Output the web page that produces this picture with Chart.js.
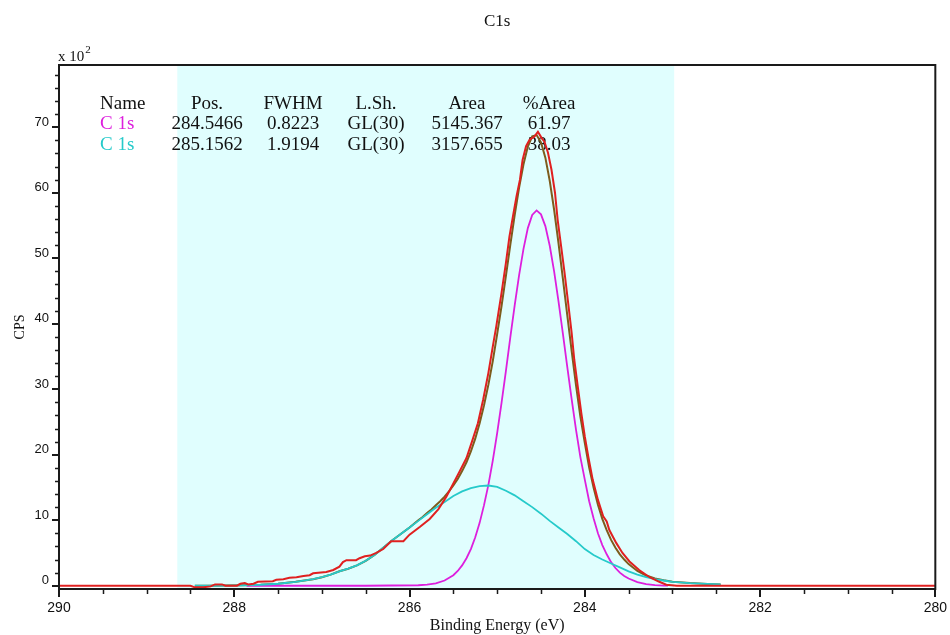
<!DOCTYPE html>
<html>
<head>
<meta charset="utf-8">
<script src="https://cdn.jsdelivr.net/npm/chart.js@4.4.1/dist/chart.umd.min.js"></script>
<style>
  html, body { margin: 0; padding: 0; background: #ffffff; }
  #wrap { width: 950px; height: 635px; }
  #xps { display: block; }
</style>
</head>
<body>
<div id="wrap"><canvas id="xps" width="950" height="635"></canvas></div>
<script>
// C 1s high-resolution region, counts in CPS x 10^2 against binding energy (eV)

// Measured spectrum
const rawEnergy = [290.0, 288.75, 288.5, 288.45, 288.35, 288.27, 288.22, 288.14, 288.1, 287.97,
  287.93, 287.88, 287.84, 287.78, 287.73, 287.56, 287.52, 287.44, 287.37, 287.29,
  287.21, 287.14, 287.1, 286.95, 286.87, 286.8, 286.76, 286.72, 286.61, 286.57,
  286.51, 286.45, 286.38, 286.3, 286.21, 286.07, 286.0, 285.88, 285.77, 285.67,
  285.58, 285.5, 285.43, 285.35, 285.28, 285.22, 285.16, 285.1, 285.05, 285.01,
  284.95, 284.9, 284.86, 284.82, 284.78, 284.74, 284.71, 284.67, 284.63, 284.58,
  284.535, 284.49, 284.46, 284.42, 284.38, 284.34, 284.31, 284.27, 284.23, 284.19,
  284.15, 284.12, 284.08, 284.04, 284.0, 283.96, 283.91, 283.85, 283.79, 283.75,
  283.72, 283.64, 283.57, 283.49, 283.38, 283.26, 283.15, 283.07, 282.95, 280.0];
const rawCounts = [0, 0, 0, -0.25, -0.25, -0.1, 0.2, 0.2, 0, 0,
  0.3, 0.4, 0.2, 0.3, 0.6, 0.7, 0.9, 1.0, 1.2, 1.3,
  1.5, 1.6, 1.9, 2.1, 2.4, 2.9, 3.6, 3.9, 3.9, 4.2,
  4.5, 4.6, 5.0, 5.6, 6.8, 6.8, 7.8, 9.0, 10.2, 11.7,
  13.6, 15.6, 17.4, 19.5, 22.3, 24.8, 28.4, 32.5, 36.5, 39.6,
  44.7, 49.3, 53.3, 56.4, 59.4, 62.0, 65.0, 67.1, 68.1, 68.5,
  69.3, 68.3, 67.8, 66.1, 63.5, 60.0, 55.9, 51.8, 47.7, 43.2,
  38.6, 34.5, 30.4, 26.4, 22.8, 19.7, 16.2, 13.1, 10.6, 9.8,
  8.5, 6.5, 5.0, 3.7, 2.4, 1.3, 0.6, 0.15, 0, 0];

// Component 1 (C 1s, 284.5466 eV)
const mainEnergy = [287.86, 286.5, 285.9, 285.8, 285.7, 285.6,
  285.5, 285.45, 285.4, 285.35, 285.3, 285.25, 285.2, 285.15, 285.1, 285.05,
  285.0, 284.95, 284.9, 284.85, 284.8, 284.75, 284.7, 284.65, 284.6, 284.55,
  284.5, 284.45, 284.4, 284.35, 284.3, 284.25, 284.2, 284.15, 284.1, 284.05,
  284.0, 283.95, 283.9, 283.85, 283.8, 283.75, 283.7, 283.65, 283.6, 283.55,
  283.5, 283.4, 283.3, 283.2, 283.1, 283.05];
const mainCps = [0, 0, 0.07, 0.17, 0.37, 0.8,
  1.6, 2.25, 3.1, 4.2, 5.6, 7.4, 9.6, 12.3, 15.4, 19.1,
  23.3, 27.9, 32.8, 37.9, 42.8, 47.4, 51.4, 54.6, 56.6, 57.3,
  56.7, 54.9, 51.9, 48.0, 43.4, 38.5, 33.4, 28.5, 23.8, 19.6,
  16.2, 12.9, 10.3, 8.0, 6.2, 4.8, 3.6, 2.7, 2.0, 1.5,
  1.1, 0.55, 0.25, 0.1, 0.03, 0];

// Component 2 (C 1s, 285.1562 eV)
const broadEnergy = [288.45, 288.3, 288.1, 287.9, 287.7, 287.5, 287.3, 287.1,
  287.0, 286.9, 286.8, 286.7, 286.6, 286.5, 286.4, 286.3, 286.2, 286.1,
  286.0, 285.9, 285.8, 285.7, 285.6, 285.5, 285.4, 285.3, 285.2, 285.1,
  285.0, 284.9, 284.8, 284.7, 284.6, 284.5, 284.4, 284.3, 284.2, 284.1,
  284.0, 283.9, 283.8, 283.7, 283.6, 283.5, 283.4, 283.3, 283.2, 283.1,
  283.0, 282.8, 282.6, 282.45];
const broadCps = [0, 0, 0.02, 0.06, 0.15, 0.3, 0.6, 1.0,
  1.3, 1.7, 2.2, 2.6, 3.1, 3.8, 4.7, 5.8, 6.9, 7.9,
  8.9, 9.9, 10.9, 11.9, 12.8, 13.7, 14.4, 14.9, 15.2, 15.3,
  15.1, 14.5, 13.8, 12.9, 12.0, 11.0, 9.9, 8.9, 7.9, 6.8,
  5.6, 4.7, 4.0, 3.4, 2.8, 2.2, 1.7, 1.3, 1.0, 0.8,
  0.6, 0.4, 0.27, 0.2];

// Fit envelope
const envEnergy = [288.45, 288.3, 288.1, 287.9, 287.7, 287.5, 287.3, 287.1,
  287.0, 286.9, 286.8, 286.7, 286.6, 286.5, 286.4, 286.3, 286.2, 286.1, 286.0,
  285.9, 285.85, 285.8, 285.75, 285.7, 285.65, 285.6, 285.55, 285.5, 285.45,
  285.4, 285.35, 285.3, 285.25, 285.2, 285.15, 285.1, 285.05, 285.0, 284.95,
  284.9, 284.85, 284.8, 284.75, 284.7, 284.65, 284.6, 284.55, 284.5, 284.45,
  284.4, 284.35, 284.3, 284.25, 284.2, 284.15, 284.1, 284.05, 284.0, 283.95,
  283.9, 283.85, 283.8, 283.75, 283.7, 283.65, 283.6, 283.55, 283.5,
  283.4, 283.3, 283.2, 283.1, 283.0, 282.8, 282.6, 282.45];
const envCps = [0, 0, 0.02, 0.06, 0.15, 0.3, 0.6, 1.0,
  1.3, 1.7, 2.2, 2.6, 3.1, 3.8, 4.7, 5.8, 6.9, 7.9, 8.9,
  10.0, 10.5, 11.1, 11.65, 12.3, 12.9, 13.6, 14.4, 15.3, 16.3,
  17.5, 18.85, 20.5, 22.45, 24.8, 27.55, 30.7, 34.3, 38.4, 42.7,
  47.3, 52.05, 56.6, 60.75, 64.3, 67.05, 68.6, 68.8, 67.7, 65.35,
  61.8, 57.4, 52.3, 46.9, 41.3, 35.85, 30.6, 25.8, 21.8, 18.05,
  15.0, 12.35, 10.2, 8.5, 7.0, 5.8, 4.8, 4.0, 3.3,
  2.25, 1.55, 1.1, 0.83, 0.6, 0.4, 0.27, 0.2];

// Fit region (eV)
const fitRegion = [288.65, 282.98];

// Axis ticks
const xTickValues = [290, 288, 286, 284, 282, 280];
const yTickValues = [0, 10, 20, 30, 40, 50, 60, 70];

// Component table
const tableHeads = ['Name', 'Pos.', 'FWHM', 'L.Sh.', 'Area', '%Area'];
const compNames = ['C 1s', 'C 1s'];
const compPos = ['284.5466', '285.1562'];
const compFwhm = ['0.8223', '1.9194'];
const compShape = ['GL(30)', 'GL(30)'];
const compArea = ['5145.367', '3157.655'];
const compPct = ['61.97', '38.03'];

const MAIN_COLOR = '#dd1fdd';
const BROAD_COLOR = '#26caca';
const RAW_COLOR = '#e02020';
const ENV_COLOR = '#7d5c1c';
const AXIS_COLOR = '#1a1a1a';
const SERIF = '"Liberation Serif", "Times New Roman", serif';
const SANS = '"Liberation Sans", Arial, sans-serif';

const pts = (xs, ys) => xs.map((x, i) => ({ x, y: ys[i] }));

// Light band marking the fitted energy window, plus the component table
const fitShade = {
  id: 'fitShade',
  beforeDatasetsDraw(chart) {
    const { ctx, chartArea: a, scales: { x } } = chart;
    const p1 = x.getPixelForValue(fitRegion[0]);
    const p2 = x.getPixelForValue(fitRegion[1]);
    ctx.save();
    ctx.fillStyle = '#e0fefe';
    ctx.fillRect(Math.min(p1, p2), a.top, Math.abs(p2 - p1), a.bottom - a.top);

    const colX = [100, 207, 293, 376, 467, 549];
    const rowsY = [109, 129, 150];
    ctx.font = '19px ' + SERIF;
    ctx.textBaseline = 'alphabetic';
    ctx.fillStyle = '#111111';
    tableHeads.forEach((t, i) => {
      ctx.textAlign = i === 0 ? 'left' : 'center';
      ctx.fillText(t, colX[i], rowsY[0]);
    });
    const rowColors = [MAIN_COLOR, BROAD_COLOR];
    for (let r = 0; r < compNames.length; r++) {
      const cells = [compNames[r], compPos[r], compFwhm[r], compShape[r], compArea[r], compPct[r]];
      cells.forEach((t, i) => {
        ctx.textAlign = i === 0 ? 'left' : 'center';
        ctx.fillStyle = i === 0 ? rowColors[r] : '#111111';
        ctx.fillText(t, colX[i], rowsY[r + 1]);
      });
    }
    ctx.restore();
  }
};

// Frame, minor ticks, title and the scale multiplier
const frameAndLabels = {
  id: 'frameAndLabels',
  afterDatasetsDraw(chart) {
    const { ctx, chartArea: a, scales: { x, y } } = chart;
    ctx.save();
    ctx.strokeStyle = AXIS_COLOR;
    ctx.lineWidth = 2;
    ctx.strokeRect(a.left, a.top, a.right - a.left, a.bottom - a.top);

    ctx.lineWidth = 1.5;
    ctx.beginPath();
    for (let v = 2; v < 80; v += 2) {
      if (v % 10 === 0) continue;
      const py = Math.round(y.getPixelForValue(v)) + 0.5;
      ctx.moveTo(a.left - 4, py);
      ctx.lineTo(a.left, py);
    }
    for (let k = 1; k < 20; k++) {
      if (k % 4 === 0) continue;
      const px = Math.round(x.getPixelForValue(290 - k * 0.5)) + 0.5;
      ctx.moveTo(px, a.bottom);
      ctx.lineTo(px, a.bottom + 5);
    }
    ctx.stroke();

    ctx.fillStyle = '#111111';
    ctx.textAlign = 'center';
    ctx.textBaseline = 'alphabetic';
    ctx.font = '17px ' + SERIF;
    ctx.fillText('C1s', (a.left + a.right) / 2, 26);

    ctx.textAlign = 'left';
    ctx.font = '15px ' + SERIF;
    ctx.fillText('x 10', a.left - 1, 61);
    const w = ctx.measureText('x 10').width;
    ctx.font = '11px ' + SERIF;
    ctx.fillText('2', a.left - 1 + w + 1, 53);
    ctx.restore();
  }
};

new Chart(document.getElementById('xps'), {
  type: 'line',
  data: {
    datasets: [
      { label: 'Measured', data: pts(rawEnergy, rawCounts), borderColor: RAW_COLOR, borderWidth: 2 },
      { label: 'C 1s 285.16', data: pts(broadEnergy, broadCps), borderColor: BROAD_COLOR, borderWidth: 1.8 },
      { label: 'C 1s 284.55', data: pts(mainEnergy, mainCps), borderColor: MAIN_COLOR, borderWidth: 1.8 },
      { label: 'Envelope', data: pts(envEnergy, envCps), borderColor: ENV_COLOR, borderWidth: 2 }
    ]
  },
  options: {
    responsive: false,
    maintainAspectRatio: false,
    animation: false,
    devicePixelRatio: 1,
    layout: { padding: { top: 65, right: 14, left: 0, bottom: 0 } },
    elements: {
      point: { radius: 0 },
      line: { tension: 0, fill: false, borderCapStyle: 'butt', borderJoinStyle: 'miter' }
    },
    plugins: {
      legend: { display: false },
      tooltip: { enabled: false },
      title: { display: false }
    },
    scales: {
      x: {
        type: 'linear',
        reverse: true,
        min: 280,
        max: 290,
        afterBuildTicks: (s) => { s.ticks = xTickValues.map(v => ({ value: v })); },
        afterFit: (s) => { s.height = 46; },
        border: { display: false },
        grid: { drawOnChartArea: false, drawTicks: true, tickLength: 8, color: AXIS_COLOR, lineWidth: 2 },
        ticks: {
          maxRotation: 0,
          autoSkip: false,
          padding: 3,
          color: '#111111',
          font: { family: SANS, size: 14 }
        },
        title: {
          display: true,
          text: 'Binding Energy (eV)',
          color: '#111111',
          font: { family: SERIF, size: 16 },
          padding: { top: 0, bottom: 0 }
        }
      },
      y: {
        type: 'linear',
        min: -0.5,
        max: 79.5,
        afterBuildTicks: (s) => { s.ticks = yTickValues.map(v => ({ value: v })); },
        afterFit: (s) => { s.width = 59; },
        border: { display: false },
        grid: { drawOnChartArea: false, drawTicks: true, tickLength: 7, color: AXIS_COLOR, lineWidth: 2 },
        ticks: {
          padding: 3,
          labelOffset: -5,
          color: '#111111',
          font: { family: SANS, size: 13 }
        },
        title: {
          display: true,
          text: 'CPS',
          color: '#111111',
          font: { family: SERIF, size: 14 },
          padding: { top: 12, bottom: 0 }
        }
      }
    }
  },
  plugins: [fitShade, frameAndLabels]
});
</script>
</body>
</html>
